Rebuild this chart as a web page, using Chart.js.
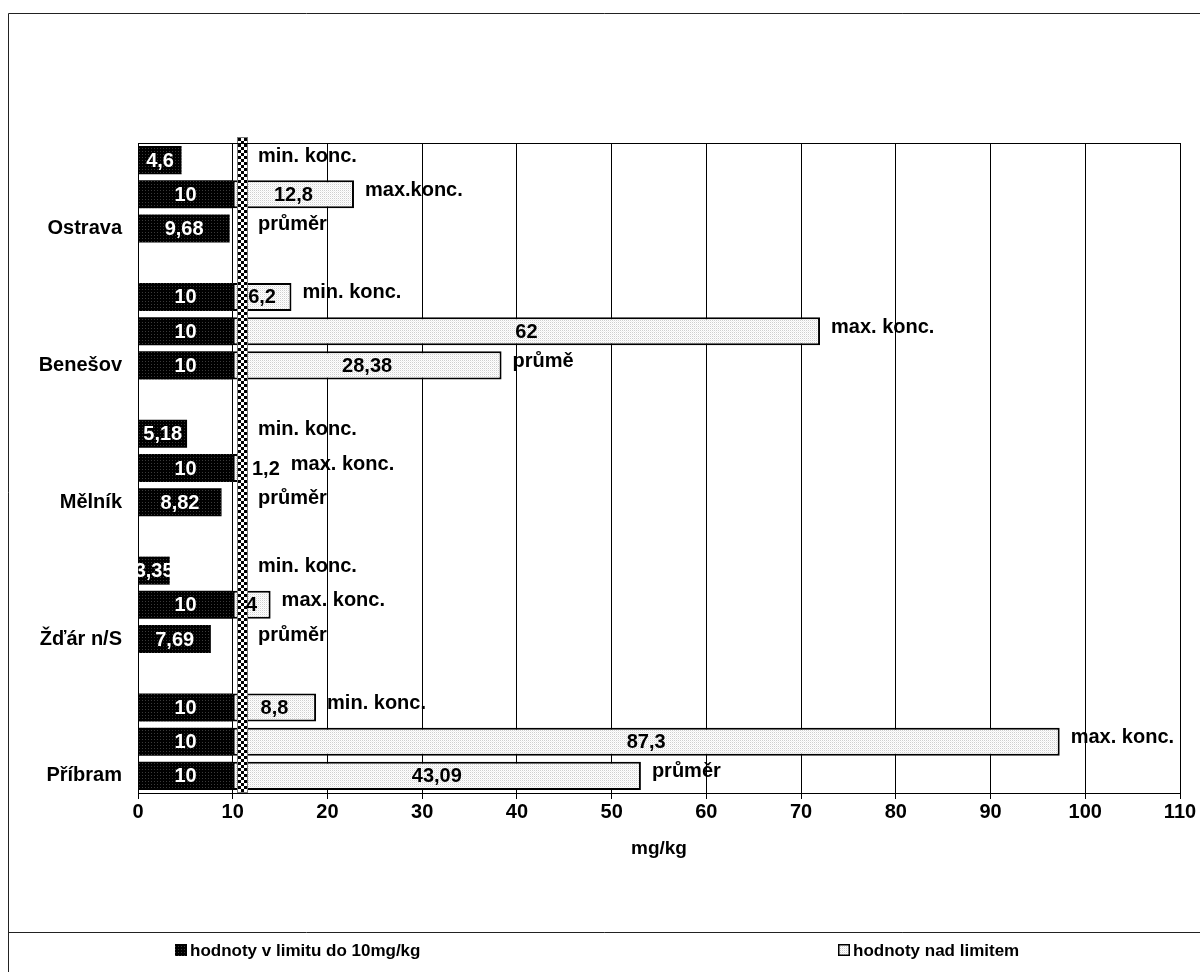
<!DOCTYPE html>
<html>
<head>
<meta charset="utf-8">
<script src="https://cdn.jsdelivr.net/npm/chart.js@4.4.1/dist/chart.umd.min.js"></script>
<style>
  html, body { margin: 0; padding: 0; background: #fff; overflow: hidden; }
  #wrap { position: absolute; left: 0; top: 0; width: 1200px; height: 972px; }
</style>
</head>
<body>
<div id="wrap"><canvas id="c" width="1200" height="972"></canvas></div>
<script>
// Sampled localities
const cities = ['Ostrava', 'Benešov', 'Mělník', 'Žďár n/S', 'Příbram'];
// Per locality: min., max. and average concentration (mg/kg), split at the 10 mg/kg limit
const withinLimit = [
  [4.6, 10, 9.68],
  [10, 10, 10],
  [5.18, 10, 8.82],
  [3.35, 10, 7.69],
  [10, 10, 10]
];
const overLimit = [
  [null, 12.8, null],
  [6.2, 62, 28.38],
  [null, 1.2, null],
  [null, 4, null],
  [8.8, 87.3, 43.09]
];
// Text written next to each bar
const measureLabels = [
  ['min. konc.', 'max.konc.', 'průměr'],
  ['min. konc.', 'max. konc.', 'průmě'],
  ['min. konc.', 'max. konc.', 'průměr'],
  ['min. konc.', 'max. konc.', 'průměr'],
  ['min. konc.', 'max. konc.', 'průměr']
];
const seriesNames = ['hodnoty v limitu do 10mg/kg', 'hodnoty nad limitem'];
const axisTitle = 'mg/kg';
const xMin = 0;
const xMax = 110;
const xStep = 10;
const limitMarker = 11;

const FONT = '"Liberation Sans", Arial, Helvetica, sans-serif';

// Build one row per bar, with an empty spacer row between localities
const rowLabels = [];
const rowWithin = [];
const rowOver = [];
const rowText = [];
cities.forEach((city, i) => {
  for (let k = 0; k < 3; k++) {
    rowLabels.push(k === 2 ? city : '');
    rowWithin.push(withinLimit[i][k]);
    rowOver.push(overLimit[i][k]);
    rowText.push(measureLabels[i][k]);
  }
  if (i < cities.length - 1) {
    rowLabels.push('');
    rowWithin.push(null);
    rowOver.push(null);
    rowText.push(null);
  }
});

// Fill textures
function makePattern(w, h, base, rects) {
  const c = document.createElement('canvas');
  c.width = w; c.height = h;
  const g = c.getContext('2d');
  g.fillStyle = base;
  g.fillRect(0, 0, w, h);
  rects.forEach(([x, y, s, col]) => { g.fillStyle = col; g.fillRect(x, y, s, s); });
  return g.createPattern(c, 'repeat');
}
const darkFill = makePattern(3, 3, '#000', [[1, 1, 1, '#3a3a3a']]);
const lightFill = makePattern(2, 2, '#fff', [[0, 0, 1, '#cfcfcf'], [1, 1, 1, '#efefef']]);
const checkFill = makePattern(6, 6, '#fff', [[0, 0, 3, '#000'], [3, 3, 3, '#000']]);

const fmt = v => String(v).replace('.', ',');

const decorPlugin = {
  id: 'decor',
  beforeDraw(chart) {
    const ctx = chart.ctx;
    ctx.save();
    ctx.fillStyle = '#fff';
    ctx.fillRect(0, 0, chart.width, chart.height);
    ctx.strokeStyle = '#222';
    ctx.lineWidth = 1;
    ctx.beginPath();
    // outer frame (top and left edges) and the legend box line
    ctx.moveTo(8.5, chart.height); ctx.lineTo(8.5, 13.5); ctx.lineTo(chart.width, 13.5);
    ctx.moveTo(8.5, 932.5); ctx.lineTo(chart.width, 932.5);
    ctx.stroke();
    ctx.restore();
  },
  afterDatasetsDraw(chart) {
    const ctx = chart.ctx;
    const area = chart.chartArea;
    const xs = chart.scales.x;
    ctx.save();

    // checkered limit marker
    const mx = xs.getPixelForValue(limitMarker);
    const mw = 9;
    const mLeft = Math.round(mx - mw / 2);
    ctx.save();
    ctx.translate(mLeft, area.top - 5);
    ctx.fillStyle = checkFill;
    ctx.fillRect(0, 0, mw, area.bottom - area.top + 5);
    ctx.restore();
    ctx.strokeStyle = '#777';
    ctx.lineWidth = 1;
    ctx.strokeRect(mLeft - 0.5, area.top - 5.5, mw + 1, area.bottom - area.top + 5);
    const markerRight = mLeft + mw;

    // plot frame
    ctx.strokeStyle = '#000';
    ctx.lineWidth = 1;
    ctx.strokeRect(Math.round(area.left) + 0.5, Math.round(area.top) + 0.5,
      Math.round(area.right - area.left), Math.round(area.bottom - area.top));

    // value labels
    ctx.font = 'bold 20px ' + FONT;
    ctx.textBaseline = 'middle';
    const rowRight = rowLabels.map(() => 0);
    chart.data.datasets.forEach((ds, di) => {
      const meta = chart.getDatasetMeta(di);
      meta.data.forEach((el, i) => {
        const v = ds.data[i];
        if (v === null || v === undefined) return;
        const x0 = Math.min(el.x, el.base), x1 = Math.max(el.x, el.base);
        rowRight[i] = Math.max(rowRight[i], x1);
        const txt = fmt(v);
        const tw = ctx.measureText(txt).width;
        ctx.fillStyle = di === 0 ? '#fff' : '#000';
        if (x1 - x0 < tw / 2) {
          const lx = Math.max(x1, markerRight) + 5;
          ctx.textAlign = 'left';
          ctx.fillText(txt, lx, el.y + 1);
          rowRight[i] = Math.max(rowRight[i], lx + tw);
        } else {
          ctx.textAlign = 'center';
          ctx.fillText(txt, (x0 + x1) / 2, el.y + 1);
        }
      });
    });

    // measure names next to the bars
    const m0 = chart.getDatasetMeta(0);
    ctx.fillStyle = '#000';
    ctx.textAlign = 'left';
    rowText.forEach((t, i) => {
      if (!t) return;
      const el = m0.data[i];
      const lx = Math.max(rowRight[i], markerRight) + 11;
      ctx.fillText(t, lx, el.y - 4);
    });
    ctx.restore();
  },
  afterDraw(chart) {
    // legend
    const ctx = chart.ctx;
    const itemX = [175, 838];
    const cy = 950;
    ctx.save();
    ctx.font = 'bold 17px ' + FONT;
    ctx.textBaseline = 'middle';
    ctx.textAlign = 'left';
    chart.data.datasets.forEach((ds, i) => {
      const x = itemX[i];
      ctx.fillStyle = ds.backgroundColor;
      ctx.fillRect(x, cy - 6, 12, 12);
      if (ds.borderWidth) {
        ctx.strokeStyle = '#000';
        ctx.lineWidth = 1.5;
        ctx.strokeRect(x + 0.75, cy - 5.25, 10.5, 10.5);
      }
      ctx.fillStyle = '#000';
      ctx.fillText(ds.label, x + 15, cy + 1);
    });
    ctx.restore();
  }
};

new Chart(document.getElementById('c'), {
  type: 'bar',
  data: {
    labels: rowLabels,
    datasets: [
      {
        label: seriesNames[0],
        data: rowWithin,
        backgroundColor: darkFill,
        borderWidth: 0,
        barPercentage: 0.82,
        categoryPercentage: 1
      },
      {
        label: seriesNames[1],
        data: rowOver,
        backgroundColor: lightFill,
        borderColor: '#000',
        borderWidth: 2,
        borderSkipped: false,
        barPercentage: 0.82,
        categoryPercentage: 1
      }
    ]
  },
  options: {
    indexAxis: 'y',
    responsive: false,
    animation: false,
    devicePixelRatio: 1,
    layout: { padding: { top: 143, right: 20, left: 0, bottom: 0 } },
    plugins: {
      legend: { display: false },
      tooltip: { enabled: false }
    },
    scales: {
      x: {
        type: 'linear',
        stacked: true,
        min: xMin,
        max: xMax,
        ticks: {
          stepSize: xStep,
          color: '#000',
          padding: 1,
          maxRotation: 0,
          font: { family: FONT, size: 20, weight: 'bold' }
        },
        grid: { color: '#000', lineWidth: 1, tickLength: 6, drawTicks: true },
        border: { display: true, color: '#000' },
        title: {
          display: true,
          text: axisTitle,
          color: '#000',
          font: { family: FONT, size: 19, weight: 'bold' },
          padding: { top: 0, bottom: 112 }
        },
        afterFit(s) { s.height = 179; }
      },
      y: {
        type: 'category',
        stacked: true,
        grid: { display: false, drawTicks: false },
        border: { display: true, color: '#000' },
        ticks: {
          autoSkip: false,
          color: '#000',
          padding: 16,
          font: { family: FONT, size: 20, weight: 'bold' }
        },
        afterFit(s) { s.width = 138; }
      }
    }
  },
  plugins: [decorPlugin]
});
</script>
</body>
</html>
